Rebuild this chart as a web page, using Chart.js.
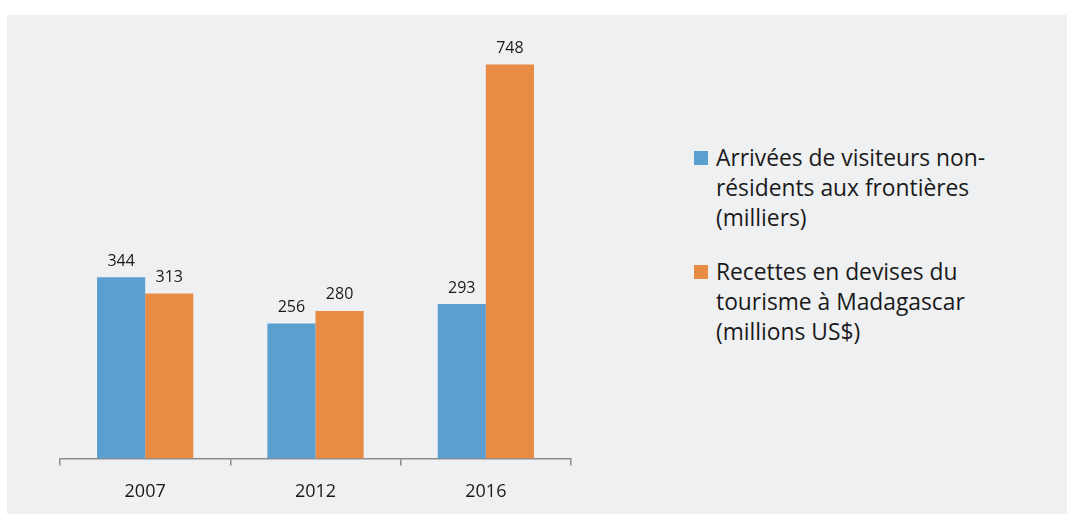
<!DOCTYPE html>
<html>
<head>
<meta charset="utf-8">
<script src="https://cdn.jsdelivr.net/npm/chart.js@4"></script>
<style>
  body { margin: 0; background: #fff; overflow: hidden; }
  #panel { position: absolute; left: 7px; top: 15px; width: 1060px; height: 499px; background: #eff0f2; }
  #wrap { position: absolute; left: 0; top: 0; width: 620px; height: 504px; }
  #legend { position: absolute; left: 687px; top: 128px; font-family: 'Open Sans', sans-serif; font-size: 22.8px; color: #1a1a1a; line-height: 30px; }
  .item { position: relative; padding-left: 22px; margin-bottom: 24px; }
  .box { position: absolute; left: 0; top: 8px; width: 14px; height: 14px; }
</style>
</head>
<body>
<div id="panel">
  <div id="wrap"><canvas id="chart"></canvas></div>
  <div id="legend"></div>
</div>
<script>
const years = ["2007", "2012", "2016"];
const arrivals = [344, 256, 293];
const receipts = [313, 280, 748];
const seriesNames = [
  ["Arrivées de visiteurs non-", "résidents aux frontières", "(milliers)"],
  ["Recettes en devises du", "tourisme à Madagascar", "(millions US$)"],
];
const colors = ["#5b9fd0", "#e88b44"];

const valueLabels = {
  id: "valueLabels",
  afterDatasetsDraw(chart) {
    const c = chart.ctx;
    c.save();
    c.font = "16px 'Open Sans', sans-serif";
    c.fillStyle = "#1a1a1a";
    c.textAlign = "center";
    c.textBaseline = "bottom";
    chart.data.datasets.forEach((ds, i) => {
      chart.getDatasetMeta(i).data.forEach((bar, j) => {
        c.fillText(ds.data[j], bar.x, bar.y - 8);
      });
    });
    c.restore();
  },
};

new Chart(document.getElementById("chart"), {
  type: "bar",
  data: {
    labels: years,
    datasets: [
      { label: seriesNames[0].join(" "), data: arrivals, backgroundColor: colors[0] },
      { label: seriesNames[1].join(" "), data: receipts, backgroundColor: colors[1] },
    ],
  },
  options: {
    responsive: true,
    maintainAspectRatio: false,
    animation: false,
    categoryPercentage: 0.565,
    barPercentage: 1,
    layout: { padding: { left: 53, right: 56, top: 22, bottom: 0 } },
    plugins: {
      legend: { display: false },
      tooltip: { enabled: false },
    },
    scales: {
      x: {
        border: { color: "#8c8c8c", width: 1.5 },
        grid: { drawOnChartArea: false, color: "#8c8c8c", tickLength: 7, lineWidth: 1.5 },
        ticks: { color: "#1a1a1a", font: { family: "Open Sans", size: 18 }, padding: 16 },
      },
      y: {
        display: false,
        min: 0,
        max: 800,
      },
    },
  },
  plugins: [valueLabels],
});

const legend = document.getElementById("legend");
seriesNames.forEach((lines, i) => {
  const item = document.createElement("div");
  item.className = "item";
  const box = document.createElement("span");
  box.className = "box";
  box.style.background = colors[i];
  item.appendChild(box);
  lines.forEach((t) => {
    const line = document.createElement("div");
    line.textContent = t;
    item.appendChild(line);
  });
  legend.appendChild(item);
});
</script>
</body>
</html>
